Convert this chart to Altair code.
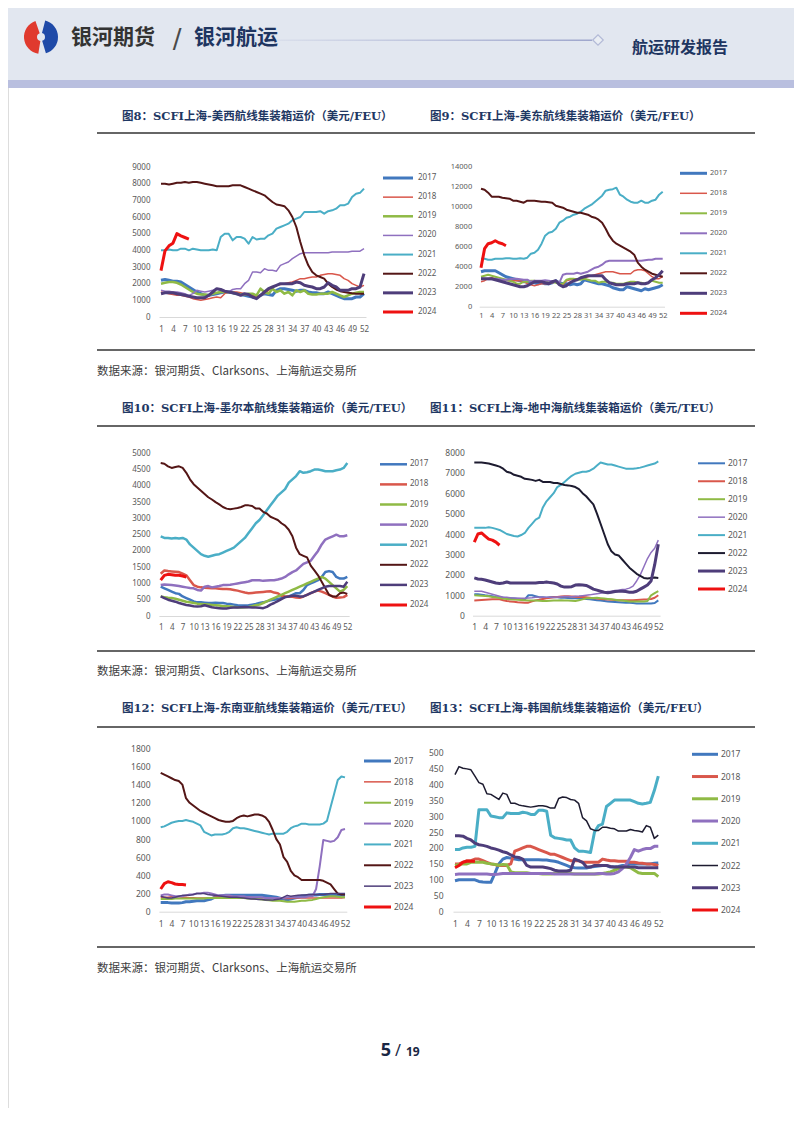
import altair as alt
import pandas as pd

WEEKS = list(range(1, 53))
YEARS = ["2017", "2018", "2019", "2020", "2021", "2022", "2023", "2024"]
X_TICKS = list(range(1, 53, 3))

# 图8 美西 (USD/FEU)
US_WEST = {
    "2017": [2200, 2250, 2200, 2150, 2150, 2100, 1950, 1800, 1650, 1500,
             1400, 1300, 1300, 1350, 1400, 1450, 1500, 1500, 1450, 1400,
             1350, 1300, 1250, 1200, 1150, 1300, 1400, 1350, 1300, 1600,
             1700, 1700, 1650, 1600, 1550, 1600, 1600, 1500, 1450, 1450,
             1400, 1400, 1500, 1400, 1300, 1200, 1100, 1100, 1100, 1200,
             1200, 1400],
    "2018": [1500, 1450, 1400, 1350, 1300, 1300, 1250, 1200, 1100, 1050,
             1000, 1050, 1100, 1150, 1200, 1150, 1400, 1500, 1500, 1500,
             1450, 1400, 1350, 1300, 1250, 1300, 1400, 1600, 1800, 1900,
             1950, 2000, 2050, 2100, 2200, 2300, 2300, 2350, 2400, 2400,
             2500, 2550, 2600, 2600, 2550, 2500, 2300, 2200, 2000, 1900,
             1800, 1900],
    "2019": [2000, 2050, 2100, 2100, 2050, 1950, 1800, 1650, 1500, 1400,
             1350, 1350, 1300, 1400, 1450, 1500, 1500, 1500, 1450, 1400,
             1350, 1350, 1400, 1400, 1300, 1700, 1500, 1400, 1700, 1500,
             1600, 1400, 1500, 1300, 1600, 1500, 1600, 1400, 1350, 1350,
             1400, 1400, 1400, 1500, 1400, 1300, 1200, 1300, 1400, 1450,
             1500, 1500],
    "2020": [1600, 1550, 1550, 1500, 1500, 1450, 1400, 1300, 1400, 1600,
             1550, 1500, 1550, 1600, 1700, 1600, 1550, 1500, 1650, 1700,
             1700, 2000, 2200, 2700, 2700, 2650, 2900, 2800, 2800, 2750,
             3100, 3200, 3300, 3500, 3650, 3800, 3850, 3850, 3850, 3850,
             3850, 3850, 3850, 3900, 3900, 3900, 3900, 3900, 3950, 3950,
             3950, 4100],
    "2021": [4000, 4000, 4050, 4000, 4000, 4100, 4100, 4000, 4100, 4050,
             4000, 4000, 4000, 4050, 4000, 4800, 5000, 5000, 4600, 4800,
             4800, 4700, 4400, 4800, 4650, 4700, 4700, 4900, 5000, 5300,
             5400, 5500, 5600, 5800, 5900, 6000, 6300, 6300, 6300, 6300,
             6350, 6200, 6350, 6400, 6500, 6700, 6700, 6800, 7200, 7400,
             7450, 7700],
    "2022": [8000, 8000, 7950, 8000, 8050, 8050, 8100, 8050, 8100, 8100,
             8050, 8000, 7950, 7900, 7850, 7850, 7850, 7850, 7900, 7900,
             7900, 7800, 7700, 7600, 7500, 7400, 7300, 7100, 6900, 6750,
             6700, 6650, 6400, 6000, 5400, 4500, 3700, 3100, 2700, 2500,
             2400, 2300, 2000, 1800, 1650, 1550, 1500, 1450, 1420, 1400,
             1400, 1400],
    "2023": [1400, 1450, 1450, 1450, 1400, 1350, 1300, 1250, 1200, 1150,
             1150, 1150, 1300, 1500, 1700, 1650, 1550, 1500, 1450, 1400,
             1300, 1400, 1350, 1200, 1100, 1300, 1500, 1700, 1800, 1900,
             2000, 2000, 2000, 2000, 2100, 2050, 1900, 1850, 1800, 1700,
             1700, 1800, 2050, 1900, 1800, 1600, 1600, 1600, 1700, 1700,
             1800, 2600],
    "2024": [2780, 3970, 4270, 4430, 5000, 4870, 4770, 4670],
}

# 图9 美东 (USD/FEU)
US_EAST = {
    "2017": [3500, 3600, 3600, 3600, 3600, 3400, 3200, 3000, 2900, 2800,
             2700, 2600, 2500, 2500, 2400, 2400, 2300, 2400, 2300, 2300,
             2400, 2600, 2400, 2300, 2300, 2200, 2300, 2200, 2300, 2700,
             2600, 2500, 2400, 2300, 2300, 2200, 2100, 1900, 1800, 1700,
             1700, 2000, 1900, 1800, 1700, 1600, 1800, 1700, 1800, 1900,
             2000, 2200],
    "2018": [2500, 2600, 2800, 2900, 2800, 2700, 2700, 2650, 2600, 2600,
             2600, 2600, 2500, 2300, 2200, 2100, 2200, 2300, 2300, 2300,
             2400, 2500, 2300, 2200, 2600, 2700, 2800, 2800, 2800, 2900,
             3000, 3100, 3200, 3300, 3400, 3500, 3500, 3500, 3400, 3300,
             3300, 3300, 3300, 3600, 3700, 3700, 3600, 3300, 3000, 2800,
             2800, 3000],
    "2019": [3000, 3100, 3200, 3100, 3000, 2900, 2800, 2700, 2600, 2500,
             2300, 2300, 2500, 2500, 2600, 2600, 2500, 2500, 2400, 2500,
             2500, 2400, 2300, 2300, 2700, 2800, 2800, 2700, 2700, 2800,
             2700, 2600, 2600, 2400, 2500, 2500, 2400, 2400, 2300, 2300,
             2300, 2400, 2500, 2500, 2400, 2400, 2300, 2400, 2600, 2500,
             2400, 2400],
    "2020": [2800, 2800, 2750, 2750, 2800, 2750, 2700, 2700, 2750, 2800,
             2800, 2750, 2700, 2700, 2500, 2600, 2600, 2600, 2650, 2600,
             2550, 2600, 2400, 3200, 3300, 3300, 3300, 3400, 3300, 3400,
             3500, 3700, 3900, 4000, 4200, 4500, 4600, 4600, 4600, 4600,
             4600, 4600, 4600, 4600, 4600, 4600, 4650, 4700, 4700, 4800,
             4800, 4800],
    "2021": [4800, 4800, 4700, 4700, 4800, 4800, 4800, 4850, 4850, 4800,
             4800, 4850, 4800, 4900, 5300, 5400, 5700, 6300, 7100, 7400,
             7500, 7800, 8400, 8600, 8900, 9000, 9200, 9300, 9500, 9800,
             10000, 10200, 10500, 10800, 11100, 11600, 11700, 11750, 11900, 11200,
             11000, 10700, 10500, 10400, 10400, 10600, 10400, 10400, 10600, 10700,
             11200, 11500],
    "2022": [11800, 11700, 11400, 11000, 11000, 11000, 10900, 10850, 10800, 10600,
             10600, 10500, 10400, 10600, 10600, 10600, 10550, 10500, 10500, 10450,
             10400, 10100, 10000, 9900, 9700, 9600, 9500, 9400, 9400, 9300,
             9200, 9000, 8900, 8700, 8400, 7800, 7100, 6600, 6300, 6100,
             5900, 5700, 5500, 5200, 4400, 4000, 3700, 3500, 3300, 3200,
             3100, 3000],
    "2023": [2800, 2800, 2800, 2800, 2700, 2600, 2500, 2400, 2300, 2200,
             2100, 2000, 2000, 2100, 2300, 2500, 2500, 2500, 2400, 2300,
             2500, 2600, 2200, 2000, 2100, 2400, 2600, 2700, 2900, 3000,
             3100, 3100, 3100, 3100, 3100, 2700, 2400, 2300, 2200, 2200,
             2200, 2300, 2300, 2300, 2400, 2300, 2300, 2400, 2700, 2900,
             3200, 3600],
    "2024": [3900, 5800, 6300, 6400, 6600, 6400, 6300, 6100],
}

# 图10 墨尔本 (USD/TEU)
MELBOURNE = {
    "2017": [900, 850, 800, 750, 700, 680, 600, 550, 500, 450,
             420, 420, 410, 400, 400, 410, 400, 400, 380, 370,
             350, 330, 320, 320, 330, 350, 370, 400, 420, 450,
             480, 500, 520, 550, 580, 600, 650, 700, 700, 800,
             950, 1000, 1050, 1100, 1200, 1350, 1380, 1350, 1200, 1150,
             1150, 1200],
    "2018": [1300, 1400, 1380, 1370, 1360, 1350, 1300, 1250, 1100, 950,
             900, 880, 870, 860, 850, 850, 840, 830, 830, 820,
             800, 780, 750, 720, 700, 710, 720, 730, 740, 750,
             760, 720, 700, 620, 600, 600, 590, 570, 560, 600,
             650, 700, 750, 780, 750, 700, 650, 600, 560, 570,
             580, 650],
    "2019": [600, 580, 560, 550, 530, 500, 470, 440, 420, 400,
             380, 370, 360, 350, 340, 330, 320, 300, 300, 290,
             280, 270, 260, 270, 280, 300, 330, 350, 400, 450,
             500, 550, 600, 650, 700, 750, 800, 850, 900, 950,
             1000, 1050, 1100, 1150, 1200, 1150, 1050, 950, 850, 750,
             800, 920],
    "2020": [950, 970, 960, 950, 940, 920, 900, 880, 860, 850,
             800, 780, 900, 920, 880, 900, 920, 950, 950, 960,
             980, 1000, 1020, 1040, 1060, 1100, 1100, 1100, 1080, 1090,
             1100, 1100, 1120, 1150, 1200, 1280, 1350, 1400, 1500, 1600,
             1650, 1700, 1850, 2000, 2200, 2350, 2400, 2450, 2500, 2450,
             2450, 2480],
    "2021": [2450, 2400, 2400, 2380, 2400, 2380, 2400, 2350, 2200, 2100,
             2000, 1900, 1850, 1820, 1850, 1880, 1900, 1950, 2000, 2050,
             2100, 2200, 2300, 2400, 2550, 2700, 2850, 2950, 3100, 3250,
             3400, 3550, 3700, 3800, 3900, 4100, 4200, 4300, 4450, 4400,
             4420, 4450, 4500, 4500, 4480, 4450, 4450, 4450, 4480, 4500,
             4550, 4700],
    "2022": [4700, 4680, 4600, 4550, 4580, 4600, 4550, 4400, 4200, 4050,
             3950, 3850, 3750, 3650, 3580, 3500, 3430, 3350, 3300, 3280,
             3300, 3320, 3350, 3400, 3400, 3380, 3300, 3300, 3200, 3150,
             3050, 3000, 2950, 2850, 2780, 2650, 2450, 2100, 1900, 1850,
             1800, 1550, 1400, 1250, 1050, 850, 650, 600, 600, 700,
             720, 680],
    "2023": [600, 550, 500, 470, 440, 400, 370, 340, 320, 300,
             290, 300, 330, 300, 270, 250, 240, 230, 230, 250,
             260, 260, 270, 280, 270, 260, 260, 250, 240, 280,
             350, 400, 460, 520, 580, 600, 620, 620, 600, 600,
             650, 700, 750, 800, 850, 900, 920, 920, 920, 920,
             900, 1050],
    "2024": [1100, 1250, 1280, 1270, 1250, 1250, 1230, 1200],
}

# 图11 地中海 (USD/TEU)
MEDITERRANEAN = {
    "2017": [1050, 1050, 1030, 1000, 980, 950, 920, 900, 880, 860,
             850, 840, 830, 820, 800, 1000, 1000, 950, 900, 900,
             880, 900, 920, 900, 880, 880, 870, 860, 860, 860,
             850, 820, 800, 780, 760, 740, 720, 700, 680, 670,
             660, 650, 640, 630, 620, 600, 600, 600, 600, 600,
             620, 750],
    "2018": [750, 760, 770, 780, 790, 800, 800, 800, 760, 720,
             700, 680, 660, 650, 640, 640, 700, 750, 780, 820,
             850, 880, 900, 920, 940, 950, 950, 940, 930, 920,
             910, 900, 880, 860, 840, 820, 800, 790, 780, 770,
             760, 760, 760, 760, 760, 770, 780, 790, 800, 820,
             880, 1000],
    "2019": [1000, 990, 980, 970, 950, 920, 900, 870, 840, 820,
             800, 790, 780, 770, 760, 750, 740, 740, 730, 720,
             720, 730, 740, 750, 760, 750, 740, 730, 720, 760,
             800, 850, 860, 870, 880, 860, 840, 820, 800, 780,
             760, 740, 720, 700, 700, 700, 690, 700, 720, 1000,
             1100, 1200],
    "2020": [1200, 1200, 1200, 1150, 1100, 1050, 1000, 950, 900, 900,
             880, 870, 860, 850, 850, 870, 880, 900, 900, 900,
             900, 900, 900, 920, 930, 940, 940, 930, 950, 960,
             980, 1000, 1020, 1050, 1080, 1100, 1150, 1180, 1200, 1230,
             1250, 1280, 1300, 1350, 1450, 1700, 2000, 2400, 2800, 3100,
             3300, 3700],
    "2021": [4300, 4300, 4300, 4300, 4330, 4300, 4250, 4200, 4100, 4000,
             3950, 3900, 3880, 3950, 4050, 4300, 4500, 4700, 4800, 5300,
             5600, 5800, 6000, 6300, 6400, 6550, 6700, 6850, 6950, 7000,
             7050, 7050, 7100, 7200, 7350, 7500, 7450, 7400, 7400, 7350,
             7300, 7250, 7200, 7200, 7200, 7220, 7250, 7300, 7350, 7400,
             7450, 7550],
    "2022": [7500, 7500, 7500, 7480, 7450, 7400, 7350, 7300, 7200, 7050,
             7000, 6900, 6850, 6800, 6700, 6680, 6650, 6600, 6650, 6550,
             6550, 6550, 6500, 6500, 6450, 6400, 6380, 6350, 6300, 6200,
             6000, 5850, 5650, 5450, 5000, 4500, 4000, 3500, 3150, 3000,
             2950, 2750, 2550, 2350, 2200, 2050, 1950, 1850, 1820, 1850,
             1870, 1850],
    "2023": [1850, 1800, 1780, 1750, 1700, 1650, 1600, 1580, 1600, 1650,
             1600, 1600, 1600, 1600, 1600, 1600, 1600, 1600, 1620, 1620,
             1650, 1620, 1600, 1550, 1450, 1400, 1400, 1420, 1500, 1520,
             1500, 1480, 1400, 1300, 1250, 1200, 1150, 1120, 1150, 1180,
             1200, 1200, 1180, 1150, 1150, 1200, 1300, 1400, 1500, 1700,
             2500, 3500],
    "2024": [3600, 4000, 4050, 3900, 3750, 3700, 3600, 3450],
}

# 图12 东南亚 (USD/TEU)
SE_ASIA = {
    "2017": [100, 100, 100, 95, 95, 95, 100, 110, 110, 115,
             120, 120, 120, 130, 140, 160, 170, 175, 180, 180,
             180, 180, 180, 180, 180, 180, 180, 180, 180, 175,
             170, 165, 160, 150, 140, 130, 140, 150, 160, 170,
             175, 180, 185, 185, 190, 190, 190, 190, 190, 190,
             185, 180],
    "2018": [160, 160, 160, 165, 165, 165, 160, 160, 155, 155,
             150, 150, 150, 150, 155, 160, 165, 165, 170, 170,
             165, 165, 160, 160, 160, 160, 155, 155, 155, 150,
             150, 150, 150, 150, 145, 145, 145, 150, 150, 150,
             150, 150, 150, 150, 150, 150, 150, 150, 150, 150,
             150, 155],
    "2019": [140, 140, 140, 140, 145, 145, 145, 145, 145, 145,
             145, 145, 145, 150, 150, 150, 150, 150, 150, 150,
             150, 150, 150, 150, 145, 145, 140, 140, 135, 130,
             125, 120, 120, 120, 115, 110, 110, 110, 115, 120,
             120, 125, 130, 140, 150, 160, 165, 170, 170, 165,
             160, 160],
    "2020": [180, 190, 190, 180, 170, 170, 170, 180, 190, 190,
             200, 200, 210, 210, 200, 190, 180, 180, 180, 180,
             170, 170, 170, 170, 160, 160, 160, 160, 160, 150,
             150, 150, 150, 150, 150, 160, 160, 160, 160, 160,
             160, 170, 170, 250, 500, 790, 780, 770, 780, 820,
             900, 910],
    "2021": [930, 940, 960, 980, 990, 1000, 1000, 1010, 1000, 990,
             970, 950, 880, 860, 840, 850, 850, 850, 860, 880,
             920, 930, 920, 920, 910, 900, 890, 880, 870, 860,
             850, 860, 860, 860, 860, 880, 920, 940, 950, 970,
             970, 960, 960, 960, 960, 970, 1000, 1150, 1300, 1450,
             1490, 1480],
    "2022": [1530, 1510, 1490, 1470, 1450, 1440, 1400, 1250, 1200, 1170,
             1140, 1110, 1090, 1070, 1050, 1030, 1010, 1000, 990, 990,
             1000, 1030, 1050, 1060, 1050, 1060, 1070, 1070, 1060, 1040,
             990, 900, 800, 740, 600, 550, 450, 400, 380, 350,
             350, 350, 350, 350, 350, 340, 320, 300, 250, 200,
             190, 190],
    "2023": [170, 160, 150, 150, 160, 170, 180, 180, 180, 190,
             200, 200, 200, 190, 185, 180, 175, 170, 165, 160,
             160, 160, 155, 150, 145, 140, 140, 135, 135, 130,
             130, 130, 135, 140, 160, 180, 170, 175, 180, 185,
             185, 190, 190, 190, 190, 190, 195, 200, 200, 200,
             200, 200],
    "2024": [250, 310, 330, 320, 305, 300, 300, 295],
}

# 图13 韩国 (USD/FEU)
KOREA = {
    "2017": [97, 100, 100, 100, 100, 100, 95, 93, 92, 92,
             120, 150, 165, 170, 168, 165, 163, 163, 163, 163,
             163, 163, 162, 162, 160, 158, 155, 150, 145, 140,
             138, 137, 137, 137, 140, 142, 143, 145, 145, 140,
             140, 142, 145, 145, 150, 150, 150, 150, 150, 150,
             152, 153],
    "2018": [150, 150, 155, 160, 160, 165, 165, 160, 155, 150,
             148, 145, 145, 145, 150, 190, 195, 200, 205, 205,
             200, 195, 190, 185, 180, 180, 175, 170, 165, 160,
             160, 160, 155, 155, 155, 155, 155, 165, 162, 160,
             160, 158, 158, 158, 155, 155, 153, 152, 150, 150,
             148, 145],
    "2019": [145, 148, 150, 150, 155, 155, 155, 155, 152, 150,
             148, 146, 148, 147, 125, 122, 122, 122, 122, 120,
             120, 120, 118, 118, 118, 120, 122, 122, 122, 120,
             118, 118, 118, 118, 118, 118, 118, 120, 122, 125,
             130, 135, 140, 140, 138, 130, 122, 120, 120, 120,
             120, 110],
    "2020": [117, 118, 118, 118, 118, 118, 118, 118, 118, 117,
             117, 118, 120, 120, 120, 120, 120, 120, 120, 120,
             120, 120, 120, 120, 120, 118, 118, 118, 118, 118,
             118, 118, 118, 118, 118, 118, 120, 120, 118, 118,
             120, 125, 135, 150, 170, 195, 190, 195, 198, 198,
             205, 205],
    "2021": [195, 195, 200, 202, 202, 205, 320, 320, 320, 300,
             298, 295, 295, 310, 308, 308, 308, 312, 310, 305,
             305, 318, 318, 315, 240, 232, 230, 228, 225, 225,
             200, 190, 190, 188, 186, 250, 270, 275, 330, 340,
             350, 350, 350, 350, 350, 345, 340, 338, 340, 343,
             380, 425],
    "2022": [430, 455, 450, 448, 445, 425, 405, 400, 370, 368,
             360, 352, 372, 368, 340, 340, 335, 332, 330, 328,
             330, 332, 332, 330, 325, 325, 355, 360, 358, 352,
             350, 340, 295, 285, 260, 255, 255, 265, 265, 262,
             260, 253, 253, 253, 258, 255, 253, 250, 270, 265,
             230, 240],
    "2023": [238, 238, 237, 230, 225, 215, 210, 208, 205, 200,
             197, 193, 188, 185, 178, 172, 170, 165, 145, 140,
             140, 140, 140, 138, 135, 130, 128, 128, 128, 130,
             165, 160, 155, 140, 140, 145, 145, 145, 145, 142,
             140, 140, 140, 140, 140, 140, 138, 138, 138, 138,
             138, 138],
    "2024": [138, 145, 155, 158, 158, 158],
}

TITLES = [
    "图8：SCFI上海-美西航线集装箱运价（美元/FEU）",
    "图9：SCFI上海-美东航线集装箱运价（美元/FEU）",
    "图10：SCFI上海-墨尔本航线集装箱运价（美元/TEU）",
    "图11：SCFI上海-地中海航线集装箱运价（美元/TEU）",
    "图12：SCFI上海-东南亚航线集装箱运价（美元/TEU）",
    "图13：SCFI上海-韩国航线集装箱运价（美元/FEU）",
]
SOURCE = "数据来源：银河期货、Clarksons、上海航运交易所"

# ---------------- layout / style ----------------
OFF = 8
W, H = 786, 1100
BASE = ["#4178BE", "#D9574B", "#8FBA45", "#8F70BF", "#4AAEC6", "#541616", "#4E3D7A", "#EE1111"]
DARK = ["#4178BE", "#D9574B", "#8FBA45", "#8F70BF", "#4AAEC6", "#1D1B30", "#4E3D7A", "#EE1111"]
CJK = "Noto Sans CJK SC"
LABEL_FONT = "Noto Sans"
LABEL_COLOR = "#595959"

PANELS = [
    dict(data=US_WEST, ymax=9000, ystep=1000, x1=161, x52=364, ytop=167, y0=317, labr=150, pad=8,
         lx1=383, lx2=413, tx=418, lt=178, lb=312, colors=BASE, fs=8,
         widths=[3, 1.5, 2.5, 1.5, 2, 2, 3, 3]),
    dict(data=US_EAST, ymax=14000, ystep=2000, x1=481, x52=662.7, ytop=166.7, y0=306.7, labr=471.7, pad=5,
         lx1=680, lx2=707, tx=710, lt=173.3, lb=313.3, colors=BASE, fs=7.5,
         widths=[3, 1.5, 2, 2, 2, 2, 3, 3]),
    dict(data=MELBOURNE, ymax=5000, ystep=500, x1=160.7, x52=347.3, ytop=453.3, y0=616, labr=150, pad=7,
         lx1=380, lx2=407, tx=410, lt=464.3, lb=605, colors=BASE, fs=8,
         widths=[2.5, 2.5, 2.5, 2.5, 2.5, 2, 2.5, 3]),
    dict(data=MEDITERRANEAN, ymax=8000, ystep=1000, x1=474.3, x52=658.3, ytop=452.3, y0=615.7, labr=464.3, pad=7,
         lx1=698, lx2=725, tx=728, lt=463.3, lb=589, colors=DARK, fs=8.5,
         widths=[2, 2, 2, 1.5, 2, 2, 3, 3]),
    dict(data=SE_ASIA, ymax=1800, ystep=200, x1=160.7, x52=345, ytop=748.3, y0=911.7, labr=150, pad=8,
         lx1=364, lx2=391, tx=394, lt=761, lb=907, colors=BASE, fs=8.5,
         widths=[3, 1.5, 2, 2, 2, 2, 1.5, 3]),
    dict(data=KOREA, ymax=500, ystep=50, x1=455, x52=658.3, ytop=752.3, y0=911.7, labr=443, pad=8,
         lx1=692, lx2=718, tx=721, lt=754.3, lb=910, colors=DARK, fs=8.5,
         widths=[3, 3, 3, 3, 3, 1.5, 3, 3]),
]

ONE = alt.Data(values=[{"k": 1}])


def to_long(series):
    rows = []
    for yr in YEARS:
        for i, v in enumerate(series[yr]):
            rows.append({"week": WEEKS[i], "year": yr, "value": v})
    return pd.DataFrame(rows)


def panel_layers(p):
    df = to_long(p["data"])
    step = (p["x52"] - p["x1"]) / 51.0
    xs = alt.Scale(domain=[0.5, 52.5], range=[p["x1"] - step / 2 - OFF, p["x52"] + step / 2 - OFF],
                   nice=False, zero=False)
    ys = alt.Scale(domain=[0, p["ymax"]], range=[p["y0"] - OFF, p["ytop"] - OFF], nice=False)
    cs = alt.Scale(domain=YEARS, range=p["colors"])
    ws = alt.Scale(type="ordinal", domain=YEARS, range=p["widths"])
    yvals = list(range(0, p["ymax"] + 1, p["ystep"]))
    lines = alt.Chart(df).mark_line(strokeJoin="round").encode(
        x=alt.X("week:Q", scale=xs, title=None,
                axis=alt.Axis(orient="bottom", offset=p["y0"] - OFF - H, values=X_TICKS, grid=False,
                              ticks=False, tickSize=0, domain=True, domainColor="#D9D9D9", domainWidth=1,
                              labelPadding=p["pad"], labelFontSize=p["fs"], labelFont=LABEL_FONT,
                              labelColor=LABEL_COLOR, labelOverlap=False, labelFlush=False, labelBound=False,
                              format="d")),
        y=alt.Y("value:Q", scale=ys, title=None,
                axis=alt.Axis(orient="left", offset=-(p["labr"] + 3 - OFF), values=yvals, grid=False,
                              ticks=False, tickSize=0, domain=False, labelPadding=3, format="d",
                              labelFontSize=p["fs"], labelFont=LABEL_FONT, labelColor=LABEL_COLOR,
                              labelOverlap=False, labelFlush=False, labelBound=False)),
        color=alt.Color("year:N", scale=cs, legend=None),
        strokeWidth=alt.StrokeWidth("year:N", scale=ws, legend=None),
        order=alt.Order("week:Q"),
    )
    leg = pd.DataFrame({"year": YEARS})
    ly = alt.Scale(type="point", domain=YEARS, range=[p["lt"] - OFF, p["lb"] - OFF], padding=0)
    rules = alt.Chart(leg).mark_rule().encode(
        x=alt.value(p["lx1"] - OFF), x2=alt.value(p["lx2"] - OFF),
        y=alt.Y("year:N", scale=ly, axis=None),
        color=alt.Color("year:N", scale=cs, legend=None),
        strokeWidth=alt.StrokeWidth("year:N", scale=ws, legend=None),
    )
    texts = alt.Chart(leg).mark_text(align="left", baseline="middle", fontSize=p["fs"],
                                     font=LABEL_FONT, color=LABEL_COLOR).encode(
        x=alt.value(p["tx"] - OFF),
        y=alt.Y("year:N", scale=ly, axis=None),
        text="year:N",
    )
    return [lines, rules, texts]


def txt(s, x, y, **kw):
    return alt.Chart(ONE).mark_text(text=s, **kw).encode(x=alt.value(x - OFF), y=alt.value(y - OFF))


def hrule(x1, x2, y, color, width):
    return alt.Chart(ONE).mark_rule(color=color, strokeWidth=width).encode(
        x=alt.value(x1 - OFF), x2=alt.value(x2 - OFF), y=alt.value(y - OFF))


def rect(x1, x2, y1, y2, **kw):
    return alt.Chart(ONE).mark_rect(**kw).encode(
        x=alt.value(x1 - OFF), x2=alt.value(x2 - OFF), y=alt.value(y1 - OFF), y2=alt.value(y2 - OFF))


layers = []
# header
layers.append(rect(OFF, W + OFF, OFF, 80, color="#E2E7F0"))
layers.append(rect(OFF, W + OFF, 80, 88, color="#B9BFDF"))
layers.append(rect(230, 592, 39.5, 41, color=alt.Gradient(
    gradient="linear", x1=0, x2=1, y1=0, y2=0,
    stops=[alt.GradientStop(color="#E2E7F0", offset=0), alt.GradientStop(color="#9FA7CD", offset=1)])))
layers.append(alt.Chart(ONE).mark_point(shape="diamond", size=110, filled=True, fill="#EEF1F7",
                                        stroke="#9FA7CD", strokeWidth=1.2).encode(
    x=alt.value(598 - OFF), y=alt.value(40 - OFF)))
layers.append(alt.Chart(ONE).mark_arc(theta=0.25, theta2=2.85, outerRadius=17, innerRadius=4,
                                      color="#1F4AA8").encode(x=alt.value(41 - OFF), y=alt.value(37 - OFF)))
layers.append(alt.Chart(ONE).mark_arc(theta=3.3, theta2=5.95, outerRadius=17, innerRadius=4,
                                      color="#E03A2E").encode(x=alt.value(41 - OFF), y=alt.value(37 - OFF)))
layers.append(txt("银河期货", 71, 38, font=CJK, fontSize=21, fontWeight="bold", color="#333333",
                  align="left", baseline="middle"))
layers.append(txt("/", 177, 40, font="DejaVu Sans", fontSize=26, fontWeight="normal", color="#4A4A4A",
                  align="center", baseline="middle"))
layers.append(txt("银河航运", 194, 38, font=CJK, fontSize=21, fontWeight="bold", color="#1E3561",
                  align="left", baseline="middle"))
layers.append(txt("航运研发报告", 632, 48, font=CJK, fontSize=16, fontWeight="bold", color="#1E3561",
                  align="left", baseline="middle"))

# section titles, rules, sources
TITLE_FONT = "DejaVu Serif, " + CJK
rows = [(117, 133, 350, 372), (409, 426, 651, 672), (709, 727, 947, 969)]
for r, (ty, ly1, ly2, sy) in enumerate(rows):
    layers.append(txt(TITLES[2 * r], 122, ty, font=TITLE_FONT, fontSize=11.5, fontWeight="bold",
                      color="#1F3864", align="left", baseline="middle"))
    layers.append(txt(TITLES[2 * r + 1], 430, ty, font=TITLE_FONT, fontSize=11.5, fontWeight="bold",
                      color="#1F3864", align="left", baseline="middle"))
    layers.append(hrule(97, 755, ly1, "#333333", 1.5))
    layers.append(hrule(97, 755, ly2, "#333333", 1.5))
    layers.append(txt(SOURCE, 97, sy, font=CJK, fontSize=11.5, color="#404040",
                      align="left", baseline="middle"))

# charts
for p in PANELS:
    layers.extend(panel_layers(p))

# footer
layers.append(txt("5", 386, 1050, font=LABEL_FONT, fontSize=18, fontWeight="bold", color="#1A2744",
                  align="center", baseline="alphabetic", dy=6))
layers.append(txt("/", 398, 1050, font=LABEL_FONT, fontSize=16, color="#1A2744",
                  align="center", baseline="alphabetic", dy=6))
layers.append(txt("19", 406, 1050, font=LABEL_FONT, fontSize=12, fontWeight="bold", color="#1A2744",
                  align="left", baseline="alphabetic", dy=6))

chart = alt.layer(*layers).resolve_scale(
    x="independent", y="independent", color="independent", strokeWidth="independent"
).resolve_axis(x="independent", y="independent").properties(
    width=W, height=H, autosize=alt.AutoSizeParams(type="none"), padding=0
).configure_view(stroke=None).configure(background="white")

chart.save("out.html", embed_options={"renderer": "svg", "actions": False})
